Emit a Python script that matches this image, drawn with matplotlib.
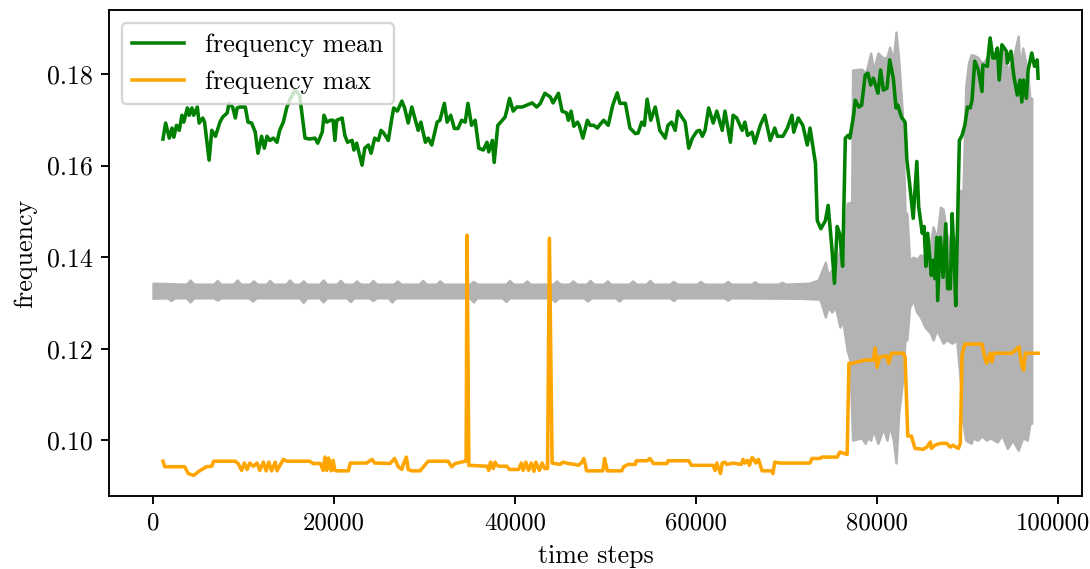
import matplotlib
matplotlib.use("Agg")
import matplotlib.pyplot as plt
import matplotlib.transforms as mtransforms
import numpy as np

plt.rcParams['font.family'] = 'serif'
plt.rcParams['font.serif'] = ['cmr10']
plt.rcParams['mathtext.fontset'] = 'cm'
plt.rcParams['axes.formatter.use_mathtext'] = True
plt.rcParams['axes.unicode_minus'] = False
plt.rcParams['font.size'] = 11

# ---- frequency mean (green) ----
mean_x = [1100, 1400, 1800, 2100, 2300, 2600, 2900, 3200, 3400, 3800, 4000, 4300, 4500, 4900, 5100, 5500, 5700,
          6200, 6500, 6900, 7400, 7700, 8200, 8400, 8800, 9100, 9300, 9600, 10200, 10500, 10900, 11300, 11600,
          12000, 12300, 12600, 12900, 13300, 13700, 14000, 14400, 14800, 15100, 15700, 16200, 16800, 17300,
          17900, 18200, 18700, 18900, 19200, 19600, 19900, 20100, 20300, 20900, 21200, 21500, 22000, 22200,
          22500, 23100, 23400, 23800, 24100, 24500, 24900, 25200, 25500, 26000, 26400, 26600, 27000, 27500,
          27800, 28200, 28600, 29000, 29300, 29600, 30100, 30400, 30800, 31400, 31700, 32200, 32500, 32900,
          33300, 33700, 34100, 34500, 34800, 35200, 35600, 36000, 36500, 36900, 37100, 37500, 37700, 38100,
          38600, 38900, 39100, 39400, 39800, 40200, 40800, 41300, 41900, 42400, 42800, 43300, 43900, 44200,
          44800, 45200, 45700, 45900, 46200, 46500, 46900, 47100, 47500, 48000, 48300, 48700, 49100, 49400,
          49800, 50300, 50800, 51300, 51600, 52200, 52700, 53300, 53600, 54000, 54300, 54600, 55000, 55500,
          56000, 56600, 56900, 57300, 57700, 58000, 58500, 58800, 59200, 59600, 60100, 60400, 60700, 61000,
          61400, 61900, 62300, 62900, 63200, 63800, 64100, 64500, 65100, 65400, 65700, 66200, 66500, 67100,
          67600, 68200, 68700, 69000, 69600, 70100, 70600, 70800, 71300, 71800, 72300, 72600, 73200, 73400,
          73800, 74300, 74600, 75000, 75300, 75600, 75900, 76200, 76500, 76800, 77000, 77400, 77600, 78000,
          78300, 78700, 79000, 79300, 79600, 79900, 80100, 80400, 80700, 81100, 81400, 81800, 82100, 82300,
          82700, 83100, 83300, 83600, 84000, 84400, 84600, 85000, 85200, 85400, 85600, 86000, 86200, 86400,
          86600, 86700, 87000, 87300, 87600, 87800, 88100, 88300, 88500, 88700, 89100, 89400, 89700, 90000,
          90300, 90500, 90800, 91200, 91600, 91700, 92200, 92300, 92500, 92800, 93000, 93300, 93500, 93800,
          94300, 94400, 94800, 95100, 95500, 95800, 96000, 96200, 96500, 96700, 97100, 97400, 97700, 97800]
mean_y = [0.1658, 0.1693, 0.1660, 0.1682, 0.1662, 0.1688, 0.1677, 0.1710, 0.1695, 0.1726, 0.1710, 0.1726, 0.1710,
          0.1728, 0.1693, 0.1704, 0.1695, 0.1612, 0.1677, 0.1664, 0.1695, 0.1706, 0.1715, 0.1736, 0.1728, 0.1704,
          0.1726, 0.1728, 0.1728, 0.1695, 0.1693, 0.1673, 0.1627, 0.1664, 0.1638, 0.1664, 0.1655, 0.1660, 0.1651,
          0.1677, 0.1695, 0.1728, 0.1743, 0.1765, 0.1754, 0.1660, 0.1658, 0.1660, 0.1649, 0.1673, 0.1710, 0.1695,
          0.1699, 0.1699, 0.1655, 0.1699, 0.1704, 0.1666, 0.1651, 0.1655, 0.1634, 0.1649, 0.1601, 0.1638, 0.1645,
          0.1627, 0.1660, 0.1655, 0.1677, 0.1671, 0.1655, 0.1704, 0.1726, 0.1719, 0.1741, 0.1726, 0.1693, 0.1728,
          0.1699, 0.1677, 0.1695, 0.1651, 0.1660, 0.1645, 0.1695, 0.1699, 0.1736, 0.1695, 0.1710, 0.1681, 0.1681,
          0.1699, 0.1695, 0.1736, 0.1688, 0.1699, 0.1638, 0.1634, 0.1651, 0.1630, 0.1655, 0.1607, 0.1688, 0.1699,
          0.1706, 0.1721, 0.1747, 0.1719, 0.1728, 0.1728, 0.1732, 0.1737, 0.1728, 0.1736, 0.1758, 0.1750, 0.1737,
          0.1758, 0.1719, 0.1715, 0.1699, 0.1719, 0.1686, 0.1695, 0.1688, 0.1660, 0.1699, 0.1688, 0.1688, 0.1682,
          0.1690, 0.1699, 0.1688, 0.1732, 0.1759, 0.1736, 0.1736, 0.1682, 0.1670, 0.1671, 0.1695, 0.1688, 0.1745,
          0.1699, 0.1728, 0.1677, 0.1660, 0.1688, 0.1695, 0.1677, 0.1719, 0.1704, 0.1695, 0.1638, 0.1660, 0.1675,
          0.1677, 0.1664, 0.1677, 0.1726, 0.1693, 0.1719, 0.1677, 0.1719, 0.1651, 0.1710, 0.1704, 0.1677, 0.1695,
          0.1666, 0.1673, 0.1649, 0.1688, 0.1710, 0.1655, 0.1682, 0.1664, 0.1664, 0.1682, 0.1710, 0.1673, 0.1704,
          0.1688, 0.1645, 0.1682, 0.1605, 0.1480, 0.1462, 0.1480, 0.1513, 0.1423, 0.1343, 0.1467, 0.1449, 0.1380,
          0.1660, 0.1666, 0.1660, 0.1708, 0.1743, 0.1728, 0.1732, 0.1798, 0.1802, 0.1776, 0.1791, 0.1772, 0.1758,
          0.1809, 0.1765, 0.1769, 0.1831, 0.1791, 0.1726, 0.1732, 0.1706, 0.1695, 0.1612, 0.1561, 0.1485, 0.1609,
          0.1511, 0.1452, 0.1467, 0.1380, 0.1452, 0.1360, 0.1393, 0.1353, 0.1443, 0.1305, 0.1443, 0.1356, 0.1473,
          0.1331, 0.1331, 0.1495, 0.1408, 0.1294, 0.1655, 0.1666, 0.1688, 0.1728, 0.1726, 0.1743, 0.1828, 0.1809,
          0.1762, 0.1820, 0.1817, 0.1842, 0.1879, 0.1835, 0.1835, 0.1857, 0.1787, 0.1864, 0.1850, 0.1824, 0.1850,
          0.1798, 0.1754, 0.1787, 0.1739, 0.1787, 0.1747, 0.1809, 0.1846, 0.1817, 0.1831, 0.1791]

# ---- frequency max (orange) ----
max_x = [1100, 1300, 3500, 3900, 4500, 5000, 5900, 6500, 6700, 9100, 9400, 9800, 10100, 10400, 10700, 11100,
         11500, 11800, 12200, 12500, 12800, 13100, 13500, 13700, 14400, 14800, 17300, 17700, 18500, 18800,
         19000, 19200, 19400, 19700, 19900, 20100, 20300, 21600, 21800, 23600, 24200, 24500, 26200, 26700,
         27100, 27500, 27700, 28000, 28200, 28600, 29500, 29900, 30400, 32600, 33000, 33400, 34500, 34600,
         34700, 34900, 36900, 37100, 37300, 37600, 37800, 38000, 38300, 39100, 39400, 40400, 40700, 40900,
         41200, 41500, 41800, 42100, 42300, 42700, 43000, 43300, 43600, 43800, 44100, 45000, 45300, 45900,
         46600, 47000, 47400, 47600, 47800, 47900, 49700, 49900, 50200, 51800, 52000, 52500, 53300, 53400,
         54600, 54900, 55300, 56800, 56900, 59200, 59500, 61900, 62100, 62300, 62700, 62900, 63200, 63400,
         64100, 65000, 65200, 65400, 65700, 65900, 66200, 66400, 66600, 66900, 67300, 68400, 68500, 68700,
         69300, 72600, 72800, 73700, 73900, 75600, 75900, 76700, 76900, 77400, 77800, 78300, 78600, 79600,
         79800, 80000, 80300, 81100, 81300, 81600, 82900, 83100, 83400, 83800, 84200, 85100, 85500, 85900,
         86000, 86400, 87000, 87700, 88100, 88400, 88700, 89000, 89200, 89400, 89700, 91600, 91900, 92100,
         92500, 92700, 92900, 94900, 95300, 95700, 95800, 96000, 96200, 96400, 97800]
max_y = [0.0954, 0.0942, 0.0942, 0.0927, 0.0923, 0.0931, 0.0942, 0.0943, 0.0954, 0.0954, 0.0949, 0.0934, 0.0950,
         0.0936, 0.0950, 0.0943, 0.0950, 0.0934, 0.0952, 0.0933, 0.0952, 0.0933, 0.0952, 0.0933, 0.0958, 0.0954,
         0.0954, 0.0949, 0.0949, 0.0934, 0.0963, 0.0934, 0.0961, 0.0933, 0.0956, 0.0934, 0.0933, 0.0933, 0.0950,
         0.0950, 0.0958, 0.0950, 0.0949, 0.0960, 0.0942, 0.0936, 0.0949, 0.0963, 0.0936, 0.0933, 0.0933, 0.0942,
         0.0954, 0.0954, 0.0942, 0.0949, 0.0954, 0.0954, 0.1448, 0.0945, 0.0943, 0.0934, 0.0952, 0.0938, 0.0952,
         0.0945, 0.0943, 0.0943, 0.0936, 0.0936, 0.0950, 0.0934, 0.0952, 0.0934, 0.0950, 0.0932, 0.0952, 0.0934,
         0.0950, 0.0938, 0.0938, 0.1441, 0.0950, 0.0947, 0.0952, 0.0949, 0.0947, 0.0945, 0.0952, 0.0960, 0.0945,
         0.0933, 0.0933, 0.0960, 0.0933, 0.0933, 0.0942, 0.0947, 0.0947, 0.0955, 0.0955, 0.0960, 0.0949, 0.0949,
         0.0955, 0.0955, 0.0945, 0.0945, 0.0934, 0.0950, 0.0927, 0.0950, 0.0952, 0.0947, 0.0950, 0.0947, 0.0958,
         0.0950, 0.0956, 0.0945, 0.0962, 0.0958, 0.0950, 0.0958, 0.0933, 0.0933, 0.0927, 0.0952, 0.0950, 0.0950,
         0.0960, 0.0960, 0.0963, 0.0963, 0.0974, 0.0969, 0.1168, 0.1168, 0.1171, 0.1173, 0.1175, 0.1175, 0.1201,
         0.1159, 0.1182, 0.1184, 0.1168, 0.1190, 0.1190, 0.1182, 0.1009, 0.1009, 0.0982, 0.0980, 0.0985, 0.0996,
         0.0982, 0.0989, 0.0993, 0.0993, 0.0985, 0.0989, 0.0985, 0.0982, 0.0993, 0.1186, 0.1210, 0.1210, 0.1182,
         0.1168, 0.1190, 0.1171, 0.1190, 0.1190, 0.1197, 0.1204, 0.1188, 0.1164, 0.1153, 0.1190, 0.1190]

# ---- raw frequency signal (grey), given as upper / lower envelope ----
env_up_x = [0, 3700, 4100, 4500, 6700, 7100, 7500, 8900, 9300, 9700, 10700, 11100, 11500, 12500, 12900, 13300,
            14700, 15100, 15500, 16200, 16600, 17000, 18400, 18800, 19200, 20300, 20700, 21100, 22100, 22500,
            22900, 23900, 24300, 24700, 26600, 27000, 27400, 29400, 29800, 30200, 31300, 31700, 32100, 35000,
            35400, 35800, 39000, 39400, 39800, 40900, 41300, 41700, 44200, 44600, 45000, 46000, 46400, 46800,
            47900, 48300, 48700, 49800, 50200, 50600, 52600, 53000, 53400, 54500, 54900, 55300, 57100, 57500,
            57900, 60100, 60500, 60900, 63100, 63500, 63900, 66100, 66500, 66900, 69100, 69500, 69900, 72500,
            73500, 74300, 74600, 75000, 75400, 75900, 76200, 76700, 77200, 77300, 78300, 78700,
            78900, 79300, 79600, 80100, 80700, 81100, 81400, 81800, 82100, 82400, 82800, 83100, 83300, 83600,
            84000, 84400, 84800, 85300, 85900, 86200, 86600, 87000, 87300, 87700, 88300, 88800, 89200, 89500,
            89800, 90100, 90400, 90600, 91100, 91600, 91900, 92500, 93300, 93800, 94400, 95000, 95600, 95800,
            96100, 96600, 96900, 97100]
env_up_y = [0.1343, 0.1341, 0.1350, 0.1341, 0.1341, 0.1349, 0.1341, 0.1341, 0.1350, 0.1341, 0.1341, 0.1348,
            0.1341, 0.1341, 0.1349, 0.1341, 0.1341, 0.1350, 0.1341, 0.1341, 0.1348, 0.1341, 0.1341, 0.1350,
            0.1341, 0.1341, 0.1349, 0.1341, 0.1341, 0.1348, 0.1341, 0.1341, 0.1349, 0.1341, 0.1341, 0.1348,
            0.1341, 0.1341, 0.1349, 0.1341, 0.1341, 0.1348, 0.1341, 0.1341, 0.1347, 0.1341, 0.1341, 0.1349,
            0.1341, 0.1341, 0.1348, 0.1341, 0.1341, 0.1348, 0.1341, 0.1341, 0.1348, 0.1341, 0.1341, 0.1349,
            0.1341, 0.1341, 0.1348, 0.1341, 0.1341, 0.1348, 0.1341, 0.1341, 0.1349, 0.1341, 0.1341, 0.1347,
            0.1341, 0.1341, 0.1347, 0.1341, 0.1341, 0.1347, 0.1341, 0.1341, 0.1346, 0.1341, 0.1341, 0.1345,
            0.1341, 0.1343,
            0.1350, 0.1389, 0.1360, 0.1372, 0.1380, 0.1415, 0.1400, 0.1518, 0.1520, 0.1809, 0.1811, 0.1802,
            0.1813, 0.1846, 0.1809, 0.1846, 0.1835, 0.1837, 0.1859, 0.1831, 0.1892, 0.1831, 0.1715, 0.1498,
            0.1496, 0.1393, 0.1400, 0.1395, 0.1405, 0.1400, 0.1430, 0.1466, 0.1440, 0.1509, 0.1505, 0.1452,
            0.1410, 0.1450, 0.1546, 0.1546, 0.1772, 0.1824, 0.1842, 0.1842, 0.1837, 0.1824, 0.1829, 0.1848,
            0.1837, 0.1859, 0.1809, 0.1831, 0.1883, 0.1809, 0.1857, 0.1809, 0.1747, 0.1747]
env_lo_x = [0, 1600, 2000, 2400, 3700, 4100, 4500, 6700, 7100, 7500, 10600, 11000, 11400, 16200, 16600, 17000,
            18400, 18800, 19200, 21400, 21800, 22200, 23900, 24300, 24700, 26000, 26400, 26800, 35000, 35400,
            35800, 38600, 39000, 39400, 44000, 44400, 44800, 47600, 48000, 48400, 51100, 51500, 51900, 57100,
            57500, 57900, 63100, 63500, 63900, 71500,
            73700, 74300, 74600, 75000, 75400, 75900, 76200, 76700, 77000, 77300, 78300, 78700, 78900, 79300,
            79600, 80100, 80700, 81100, 81400, 81800, 82100, 82400, 82800, 83100, 83300, 83600, 84000, 84400,
            84800, 85300, 85900, 86200, 86600, 87300, 87700, 88300, 88800, 89200, 89500, 89800, 90400, 90600,
            91100, 91600, 92100, 92500, 93300, 93800, 94400, 95000, 95600, 96100, 96600, 96900, 97100]
env_lo_y = [0.1310, 0.1311, 0.1305, 0.1311, 0.1311, 0.1302, 0.1311, 0.1311, 0.1306, 0.1311, 0.1311, 0.1304,
            0.1311, 0.1311, 0.1301, 0.1311, 0.1311, 0.1302, 0.1311, 0.1311, 0.1303, 0.1311, 0.1311, 0.1305,
            0.1311, 0.1311, 0.1302, 0.1311, 0.1311, 0.1302, 0.1311, 0.1311, 0.1303, 0.1311, 0.1311, 0.1303,
            0.1311, 0.1311, 0.1304, 0.1311, 0.1311, 0.1304, 0.1311, 0.1311, 0.1305, 0.1311, 0.1311, 0.1306,
            0.1311, 0.1310,
            0.1308, 0.1269, 0.1291, 0.1280, 0.1291, 0.1247, 0.1262, 0.1197, 0.1175, 0.1000, 0.1005, 0.0993,
            0.1005, 0.1000, 0.1022, 0.0993, 0.1026, 0.1000, 0.1031, 0.1000, 0.0950, 0.1059, 0.1125, 0.1219,
            0.1219, 0.1291, 0.1305, 0.1280, 0.1269, 0.1247, 0.1234, 0.1219, 0.1241, 0.1212, 0.1219, 0.1212,
            0.1219, 0.1131, 0.1037, 0.1000, 0.0993, 0.1005, 0.1000, 0.1009, 0.1000, 0.1005, 0.0996, 0.1011,
            0.0982, 0.1000, 0.0978, 0.1005, 0.1000, 0.1037, 0.1037]

x_ticks = [0, 20000, 40000, 60000, 80000, 100000]
y_ticks = [0.10, 0.12, 0.14, 0.16, 0.18]

DPI = 170
fig = plt.figure(figsize=(1090 / DPI, 569 / DPI), dpi=DPI)
ax = fig.add_axes([109 / 1090, 1 - 496 / 569, (1082 - 109) / 1090, (496 - 10) / 569])

grid = np.union1d(env_up_x, env_lo_x)
up = np.interp(grid, env_up_x, env_up_y)
lo = np.interp(grid, env_lo_x, env_lo_y)
ax.fill_between(grid, lo, up, color='#b3b3b3', linewidth=1.0, edgecolor='#b3b3b3', zorder=1)

ax.plot(mean_x, mean_y, color='green', lw=1.5, label='frequency mean', zorder=3)
ax.plot(max_x, max_y, color='orange', lw=1.5, label='frequency max', zorder=4)

ax.set_xlim(-4860, 102650)
ax.set_ylim(0.0878, 0.194)
ax.set_xticks(x_ticks)
ax.set_xticklabels([str(v) for v in x_ticks])
ax.tick_params(axis='x', labelsize=10.5)
ax.set_yticks(y_ticks)
ax.set_yticklabels(['%.2f' % v for v in y_ticks])
ax.set_xlabel('time steps', labelpad=4)
ax.set_ylabel('frequency')
ax.legend(loc='upper left')

# nudge the right-most tick label so it stays inside the canvas
last = ax.get_xticklabels()[-1]
last.set_transform(last.get_transform() + mtransforms.ScaledTranslation(-5 / DPI, 0, fig.dpi_scale_trans))

fig.savefig('out.png', dpi=DPI)
